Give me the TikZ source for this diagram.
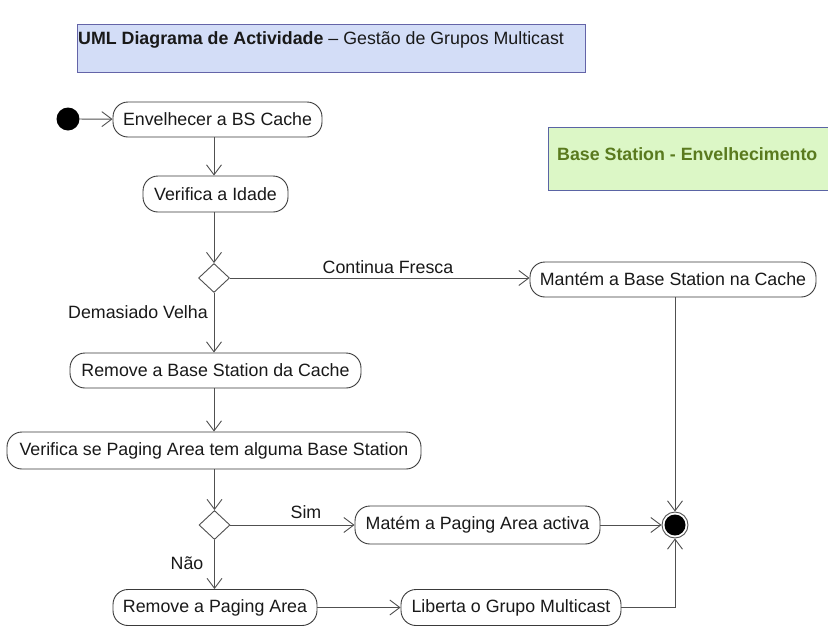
\documentclass[tikz,border=0pt]{standalone}
\usepackage{fontspec}
\setmainfont{Liberation Sans}
\usetikzlibrary{arrows.meta,shapes.geometric}
\definecolor{linegray}{HTML}{505050}
\definecolor{boxgray}{HTML}{3A3A3A}
\definecolor{titlefill}{HTML}{D3DDF7}
\definecolor{titleline}{HTML}{6464A8}
\definecolor{notefill}{HTML}{DCF7C6}
\definecolor{noteline}{HTML}{5A64A4}
\definecolor{notetext}{HTML}{5A7A1E}
\begin{document}
\begin{tikzpicture}[x=1pt,y=-1pt,
  every node/.style={font=\fontsize{17.8}{21}\selectfont, text=black!90},
  action/.style={draw=boxgray, line width=0.9pt, rounded corners=15pt,
    minimum height=35pt, inner sep=0pt, fill=white},
  decision/.style={draw=linegray, line width=0.9pt, diamond, aspect=1.07,
    minimum width=31pt, minimum height=29pt, inner sep=0pt},
  flow/.style={draw=linegray, line width=0.9pt,
    -{Straight Barb[length=10pt,width=15pt,line width=0.9pt]}},
  guard/.style={inner sep=0pt},
  startnode/.style={circle, fill=black, minimum size=23pt, inner sep=0pt},
  endnode/.style={circle, draw=linegray, line width=0.9pt, fill=white,
    minimum size=26pt, inner sep=0pt}]
\clip (0,0) rectangle (828,627);
\fill[white] (0,0) rectangle (828,627);

% header and note boxes
\draw[titleline, fill=titlefill, line width=1pt] (77,24) rectangle (585,72);
\node[anchor=west, inner sep=0pt] (title) at (78,40)
  {\textbf{UML Diagrama de Actividade} – Gestão de Grupos Multicast};
\draw[noteline, fill=notefill, line width=1pt] (548,127) rectangle (840,190);
\node[anchor=west, inner sep=0pt, text=notetext] (note) at (557,154)
  {\textbf{Base Station - Envelhecimento}};

% activity nodes
\node[startnode] (start) at (68,119) {};
\node[action, minimum width=209pt] (envelhecer) at (217.5,119.5) {Envelhecer a BS Cache};
\node[action, minimum width=145pt, minimum height=36pt] (idade) at (215.5,194) {Verifica a Idade};
\node[decision] (d1) at (214,278) {};
\node[action, minimum width=286pt] (mantem) at (673,279.5) {Mantém a Base Station na Cache};
\node[action, minimum width=291pt] (removebs) at (215.5,370.5) {Remove a Base Station da Cache};
\node[action, minimum width=414pt, minimum height=37pt] (verificapa) at (214,450.5) {Verifica se Paging Area tem alguma Base Station};
\node[decision] (d2) at (214.5,525) {};
\node[action, minimum width=245pt, minimum height=38pt] (matem) at (477.5,525) {Matém a Paging Area activa};
\node[action, minimum width=204pt, minimum height=36pt] (removepa) at (215,607.5) {Remove a Paging Area};
\node[action, minimum width=220pt, minimum height=36pt] (liberta) at (511,607.5) {Liberta o Grupo Multicast};
\node[endnode] (final) at (675,525) {};
\fill[black] (final.center) circle (10.5pt);

% guard labels
\node[guard] (lfresca) at (388,267) {Continua Fresca};
\node[guard] (lvelha) at (138,312) {Demasiado Velha};
\node[guard] (lsim) at (306,512) {Sim};
\node[guard] (lnao) at (187,563) {Não};

% control flows
\draw[flow] (start) -- (envelhecer);
\draw[flow] (envelhecer.south -| d1.north) -- (idade.north -| d1.north);
\draw[flow] (idade.south -| d1.north) -- (d1.north);
\draw[flow] (d1.east) -- (mantem.west |- d1.east);
\draw[flow] (d1.south) -- (removebs.north -| d1.south);
\draw[flow] (removebs.south -| d1.south) -- (verificapa.north -| d1.south);
\draw[flow] (verificapa.south -| d2.north) -- (d2.north);
\draw[flow] (d2.east) -- (matem.west |- d2.east);
\draw[flow] (d2.south) -- (removepa.north -| d2.south);
\draw[flow] (removepa.east) -- (liberta.west);
\draw[flow] (matem.east) -- (final.west);
\draw[flow] (mantem.south -| final.north) -- (final.north);
\draw[flow] (liberta.east) -| (final.south);
\end{tikzpicture}
\end{document}
